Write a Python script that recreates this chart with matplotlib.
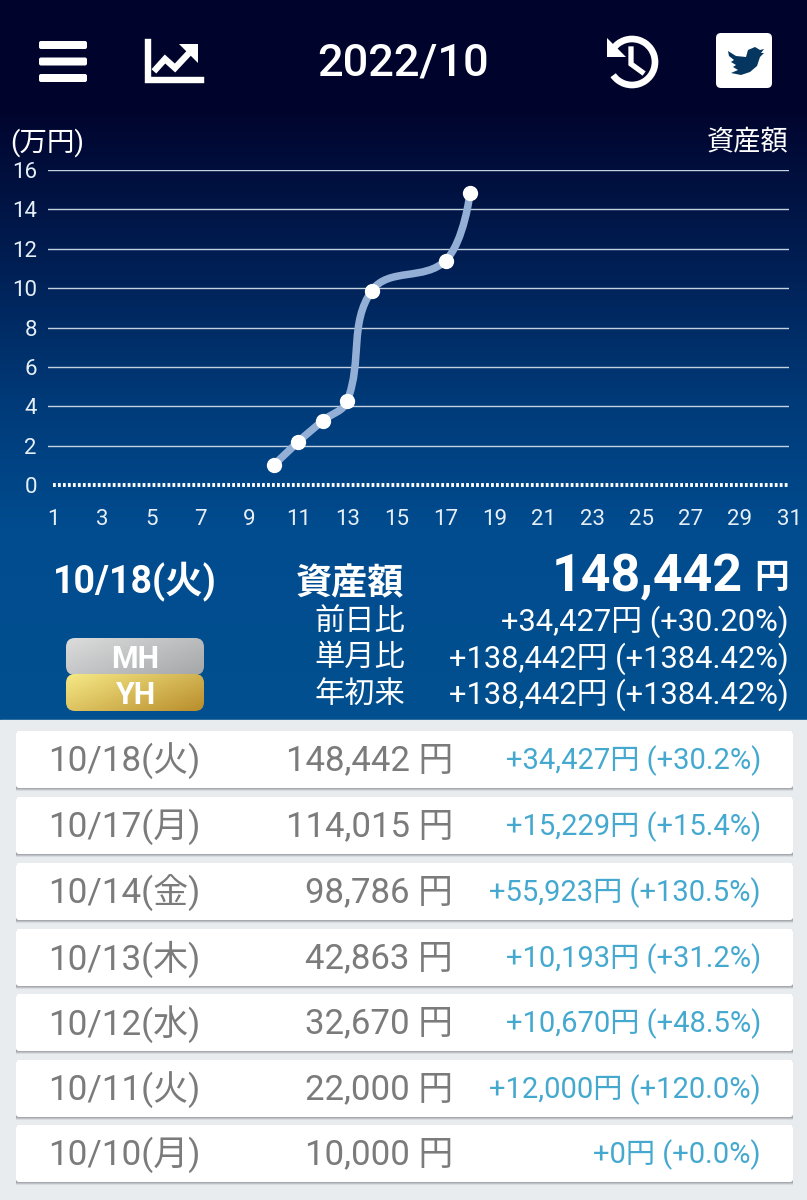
import numpy as np
import matplotlib
matplotlib.use("Agg")
import matplotlib.pyplot as plt
from matplotlib.patches import FancyBboxPatch, Rectangle, Polygon, PathPatch, Arc
from matplotlib.path import Path
from matplotlib.colors import LinearSegmentedColormap

plt.rcParams['font.family'] = ['Roboto', 'Noto Sans CJK JP', 'DejaVu Sans']

# ---- data ----
month_title = "2022/10"
row_days = [18, 17, 14, 13, 12, 11, 10]
row_dates = ["10/18(火)", "10/17(月)", "10/14(金)", "10/13(木)", "10/12(水)", "10/11(火)", "10/10(月)"]
row_assets = [148442, 114015, 98786, 42863, 32670, 22000, 10000]
row_diffs = ["+34,427円 (+30.2%)", "+15,229円 (+15.4%)", "+55,923円 (+130.5%)", "+10,193円 (+31.2%)",
             "+10,670円 (+48.5%)", "+12,000円 (+120.0%)", "+0円 (+0.0%)"]
summary_labels = ["前日比", "単月比", "年初来"]
summary_values = ["+34,427円 (+30.20%)", "+138,442円 (+1384.42%)", "+138,442円 (+1384.42%)"]
y_ticks = list(range(0, 17, 2))
x_ticks = list(range(1, 32, 2))

W, H = 807, 1200
fig = plt.figure(figsize=(W / 100, H / 100), dpi=100)
bg = fig.add_axes([0, 0, 1, 1])
bg.set_xlim(0, W)
bg.set_ylim(H, 0)
bg.axis("off")


def T(x, y, s, size, color="white", ha="left", weight="normal", va="center_baseline"):
    return bg.text(x, y, s, fontsize=size, color=color, ha=ha, va=va, fontweight=weight, zorder=6)


# ---- background gradient ----
grad = LinearSegmentedColormap.from_list("g", [(0, "#00032b"), (100 / 720, "#00032b"), (250 / 720, "#001c50"),
                                               (400 / 720, "#003a78"), (530 / 720, "#014c8f"), (1, "#02508f")])
bg.imshow(np.linspace(0, 1, 360)[:, None], extent=(0, W, 720, 0), cmap=grad, aspect="auto", zorder=0)
bg.add_patch(Rectangle((0, 720), W, 480, color="#e8ecef", zorder=0))
bg.set_xlim(0, W)
bg.set_ylim(H, 0)

# ---- header icons ----
for y in (41, 57.5, 74):
    bg.add_patch(FancyBboxPatch((39, y), 48, 8, boxstyle="round,pad=0,rounding_size=2", fc="white", ec="none", zorder=5))
# chart icon
bg.plot([147.5, 147.5, 201], [42, 80, 80], color="white", lw=4.6, solid_joinstyle="miter", zorder=5)
bg.plot([156, 165, 175, 189], [69, 59, 68, 53], color="white", lw=4.6, solid_joinstyle="miter", zorder=5)
bg.add_patch(Polygon([[179, 44], [198, 44], [198, 63]], fc="white", ec="none", zorder=5))
# history icon
bg.add_patch(Arc((632, 62), 46, 46, theta1=215, theta2=505, color="white", lw=4.8, zorder=5))
bg.add_patch(Polygon([[607, 38], [607, 57], [626, 57]], fc="white", ec="none", zorder=5))
bg.plot([631, 631, 642], [49, 64, 72], color="white", lw=3.8, solid_joinstyle="miter", zorder=5)
# twitter icon
bg.add_patch(FancyBboxPatch((716, 33), 56, 55, boxstyle="round,pad=0,rounding_size=5", fc="white", ec="none", zorder=5))
bird = [[728, 51], [736, 56], [746, 57], [748, 50], [755, 47], [760, 50], [764, 49], [761, 53], [764, 53], [760, 57],
        [757, 66], [750, 72], [741, 75], [731, 73], [738, 70], [733, 67], [736, 65], [731, 62], [734, 60], [729, 56]]
bg.add_patch(Polygon(bird, fc="#05365f", ec="none", zorder=6))

T(403, 59, month_title, 32.5, ha="center", weight=500)
T(10, 139, "(万円)", 19.8)
T(789, 139, "資産額", 19.6, ha="right")

# ---- chart ----
px_per_day = (789 - 53) / 30
px_per_unit = (485 - 170) / 16
left_px = 48
ax = fig.add_axes([left_px / W, 1 - 485 / H, (789 - left_px) / W, (485 - 170) / H])
ax.patch.set_alpha(0)
ax.set_xlim(1 - (53 - left_px) / px_per_day, 31)
ax.set_ylim(0, 16)
for s in ax.spines.values():
    s.set_visible(False)
ax.set_xticks(x_ticks)
ax.set_yticks(y_ticks)
ax.set_xticklabels([str(v) for v in x_ticks])
ax.tick_params(axis="x", length=0, pad=17.5, labelsize=16, labelcolor="#e6eef6")
ax.tick_params(axis="y", length=0, pad=8, labelsize=16, labelcolor="#e6eef6")
for v in y_ticks[1:]:
    ax.axhline(v, color="#c4d2e0", lw=1.0, zorder=1)
ax.plot([1, 31], [0, 0], color="white", lw=2.8, ls=(0, (0.72, 0.56)), zorder=2, clip_on=False)

# smooth line: bezier handles along neighbouring points, scaled by pixel distance
xs = np.array(row_days[::-1], float)
ys = np.array(row_assets[::-1], float) / 10000
tension = 0.4
seg = np.hypot(np.diff(xs) * px_per_day, np.diff(ys) * px_per_unit)
verts = [(xs[0], ys[0])]
codes = [Path.MOVETO]
out_ctrl = [(xs[0], ys[0])]
in_ctrl = [None]
for i in range(1, len(xs) - 1):
    fa = seg[i - 1] / (seg[i - 1] + seg[i])
    fb = seg[i] / (seg[i - 1] + seg[i])
    dx, dy = xs[i + 1] - xs[i - 1], ys[i + 1] - ys[i - 1]
    in_ctrl.append((xs[i] - fa * tension * dx, ys[i] - fa * tension * dy))
    out_ctrl.append((xs[i] + fb * tension * dx, ys[i] + fb * tension * dy))
in_ctrl.append((xs[-1], ys[-1]))
for i in range(len(xs) - 1):
    verts += [out_ctrl[i], in_ctrl[i + 1], (xs[i + 1], ys[i + 1])]
    codes += [Path.CURVE4] * 3
ax.add_patch(PathPatch(Path(verts, codes), fc="none", ec="#93afd6", lw=5.4, capstyle="round", zorder=3))
ax.plot(xs, ys, "o", ms=10, mfc="white", mec="white", zorder=4, clip_on=False)

# ---- summary panel ----
T(135, 578, row_dates[0], 27, ha="center", weight="bold")
T(404, 580, "資産額", 26, ha="right", weight="bold")
T(743, 572, f"{row_assets[0]:,}", 37.4, ha="right", weight="bold")
T(789, 575, "円", 25, ha="right", weight="bold")
for i, (lab, val) in enumerate(zip(summary_labels, summary_values)):
    y = 618.5 + i * 36.5
    T(405, y, lab, 21.8, ha="right")
    T(789, y, val, 22.2, ha="right")


def button(x0, y0, x1, y1, c0, c1, label):
    cm = LinearSegmentedColormap.from_list("b", [c0, c1])
    g = np.linspace(0, 1, 64)
    img = bg.imshow((g[None, :] * 0.6 + g[:, None] * 0.4), extent=(x0, x1, y1, y0), cmap=cm, aspect="auto", zorder=4)
    clip = FancyBboxPatch((x0, y0), x1 - x0, y1 - y0, boxstyle="round,pad=0,rounding_size=9", fc="none", ec="none",
                          transform=bg.transData)
    bg.add_patch(clip)
    img.set_clip_path(clip)
    T((x0 + x1) / 2, (y0 + y1) / 2, label, 22, ha="center", weight="bold")


button(66, 638, 204, 675, "#dcdcdc", "#a4a6a8", "MH")
button(66, 674, 204, 711, "#f6e986", "#b98d2c", "YH")
bg.set_xlim(0, W)
bg.set_ylim(H, 0)

# ---- rows ----
tops = [731, 797, 863, 929, 994, 1060, 1125]
for top, date, val, diff in zip(tops, row_dates, row_assets, row_diffs):
    for k, a in ((3, 0.15), (2, 0.25), (1, 0.35)):
        bg.add_patch(Rectangle((16, top + k), 777, 57, fc="#777b80", ec="none", alpha=a, zorder=2))
    bg.add_patch(FancyBboxPatch((16, top), 777, 57, boxstyle="round,pad=0,rounding_size=3", fc="white", ec="none", zorder=3))
    y = top + 26
    T(48, y, date, 25.2, color="#7b7b7b")
    T(453, y, f"{val:,} 円", 25, color="#7b7b7b", ha="right")
    T(761, y, diff, 21, color="#45a9cf", ha="right")

fig.savefig("out.png", dpi=100)
